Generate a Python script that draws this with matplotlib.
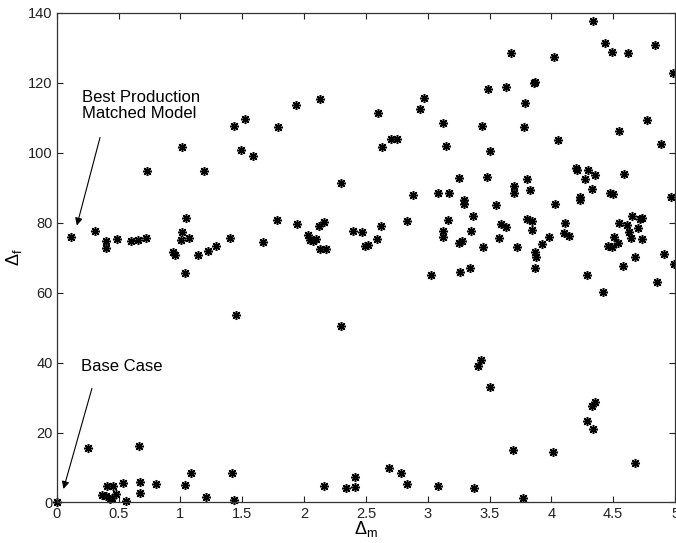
import numpy as np
import matplotlib
matplotlib.use('Agg')
import matplotlib.pyplot as plt
from matplotlib.ticker import FuncFormatter

plt.rcParams['font.family'] = ['Liberation Sans', 'DejaVu Sans']
plt.rcParams['mathtext.fontset'] = 'custom'
plt.rcParams['mathtext.rm'] = 'Liberation Sans'
plt.rcParams['mathtext.it'] = 'Liberation Sans:italic'

# 모델별 오차 (읽어낸 값)
delta_m = [
    0.0, 0.25, 0.665, 0.37, 0.41, 0.455, 0.40, 0.45, 0.48, 0.43,
    0.54, 0.56, 0.672, 0.672, 0.80, 1.035, 1.088, 1.21, 1.42, 1.43,
    2.16, 2.34, 2.41, 2.41, 2.69, 2.785, 2.83, 3.08, 3.375, 3.77,
    3.69, 4.01, 4.68, 4.29, 4.34, 4.33, 4.355, 3.41, 3.43, 3.50,
    2.30, 1.45, 1.04, 3.03, 3.26, 3.345, 3.87, 3.876, 4.285, 4.415,
    4.58, 4.68, 4.857, 4.91, 4.99,
    0.115, 0.31, 0.40, 0.40, 0.49, 0.60, 0.66, 0.725, 0.734, 1.014,
    1.195, 1.044, 1.015, 1.008, 1.068, 0.937, 0.954, 1.14, 1.226, 1.285,
    1.40, 1.433, 1.52, 1.49, 1.587, 1.67, 1.785, 1.79, 1.94, 1.935,
    2.126, 2.035, 2.05, 2.075, 2.10, 2.12, 2.158, 2.13, 2.18, 2.296,
    2.398, 2.47, 2.49, 2.52, 2.59, 2.62, 2.60, 2.63, 2.705, 2.753,
    2.83, 2.88, 2.937, 2.967, 3.08, 3.17, 3.12, 3.12, 3.16, 3.125,
    3.15, 3.25, 3.25, 3.28, 3.29, 3.29, 3.35, 3.37, 3.44, 3.45,
    3.48, 3.49, 3.50, 3.55, 3.58, 3.59, 3.63, 3.63, 3.67, 3.70,
    3.70, 3.72, 3.775, 3.79, 3.80, 3.83, 3.80, 3.845, 3.84, 3.86,
    3.87, 3.87, 3.925, 3.98, 4.02, 4.03, 4.05, 4.107, 4.10, 4.14,
    4.20, 4.21, 4.295, 4.356, 4.27, 4.33, 4.23, 4.23, 4.34, 4.435,
    4.49, 4.62, 4.84, 4.985, 4.775, 4.55, 4.885, 4.59, 4.47, 4.50,
    4.97, 4.46, 4.49, 4.505, 4.535, 4.55, 4.61, 4.63, 4.65, 4.64,
    4.70, 4.72, 4.73, 4.73,
]
delta_f = [
    0.0, 15.7, 16.1, 2.1, 4.7, 4.7, 1.8, 1.2, 2.4, 1.0,
    5.5, 0.4, 5.9, 2.8, 5.2, 4.9, 8.5, 1.5, 8.4, 0.7,
    4.8, 4.0, 4.3, 7.4, 9.8, 8.5, 5.2, 4.8, 4.1, 1.3,
    14.9, 14.3, 11.2, 23.2, 21.1, 27.6, 28.7, 38.9, 40.8, 33.1,
    50.4, 53.7, 65.6, 65.1, 65.9, 67.0, 67.0, 70.1, 64.9, 60.1,
    67.5, 70.1, 63.1, 71.1, 68.2,
    76.0, 77.5, 74.7, 72.8, 75.3, 74.8, 75.0, 75.5, 94.7, 101.5,
    94.7, 81.2, 77.4, 74.9, 75.7, 71.6, 70.8, 70.8, 71.8, 73.3,
    75.7, 107.7, 109.7, 100.8, 99.1, 74.4, 80.8, 107.2, 79.7, 113.7,
    115.3, 76.5, 75.1, 74.8, 75.3, 78.9, 80.1, 72.4, 72.4, 91.2,
    77.6, 77.3, 73.3, 73.5, 75.4, 78.9, 111.3, 101.7, 103.8, 104.0,
    80.6, 88.0, 112.6, 115.7, 88.5, 88.6, 77.7, 75.9, 80.7, 108.5,
    101.8, 92.8, 74.1, 74.8, 86.5, 85.3, 77.7, 82.0, 107.6, 73.1,
    92.9, 118.3, 100.4, 85.0, 75.6, 79.6, 78.7, 118.8, 128.5, 90.4,
    88.5, 73.1, 107.3, 114.1, 92.6, 89.3, 80.9, 80.4, 78.0, 119.9,
    120.3, 71.7, 73.8, 76.0, 127.2, 85.3, 103.7, 79.8, 77.1, 76.2,
    95.5, 94.9, 94.9, 93.7, 92.4, 89.6, 87.3, 86.5, 137.7, 131.3,
    128.7, 128.4, 130.9, 122.9, 109.4, 106.3, 102.5, 94.0, 88.5, 88.1,
    87.4, 73.2, 73.0, 76.0, 74.1, 79.8, 79.2, 77.4, 82.0, 75.7,
    78.6, 80.9, 81.4, 75.3,
]

xticks = [0, 0.5, 1, 1.5, 2, 2.5, 3, 3.5, 4, 4.5, 5]
yticks = [0, 20, 40, 60, 80, 100, 120, 140]

fig = plt.figure(figsize=(6.76, 5.43), dpi=100)
ax = fig.add_axes([0.0839, 0.0746, 0.9147, 0.902])

ax.plot(delta_m, delta_f, linestyle='none', marker=(8, 2, 0), ms=6.5, mew=1.1,
        color='k', clip_on=False)

ax.set_xlim(0, 5)
ax.set_ylim(0, 140)
ax.set_xticks(xticks)
ax.set_yticks(yticks)
ax.xaxis.set_major_formatter(FuncFormatter(lambda v, p: '%g' % v))
ax.tick_params(direction='in', top=True, right=True, length=4, width=0.8,
               labelsize=10.5, colors='#222222', pad=3)
for s in ax.spines.values():
    s.set_linewidth(0.9)
    s.set_color('#333333')

ax.set_xlabel(r'$\mathrm{\Delta}_\mathrm{m}$', fontsize=13, labelpad=-1)
ax.set_ylabel(r'$\mathrm{\Delta}_\mathrm{f}$', fontsize=13, labelpad=3)

# 주석
ax.annotate('', xy=(0.157, 78.4), xytext=(0.356, 105.1),
            arrowprops=dict(arrowstyle='-|>', color='k', lw=0.8, mutation_scale=11))
ax.text(0.207, 118.0, 'Best Production\nMatched Model', fontsize=12,
        va='top', ha='left', linespacing=1.15)

ax.annotate('', xy=(0.0485, 3.1), xytext=(0.291, 33.4),
            arrowprops=dict(arrowstyle='-|>', color='k', lw=0.8, mutation_scale=11))
ax.text(0.196, 41.0, 'Base Case', fontsize=12, va='top', ha='left')

fig.savefig('out.png', dpi=100)
